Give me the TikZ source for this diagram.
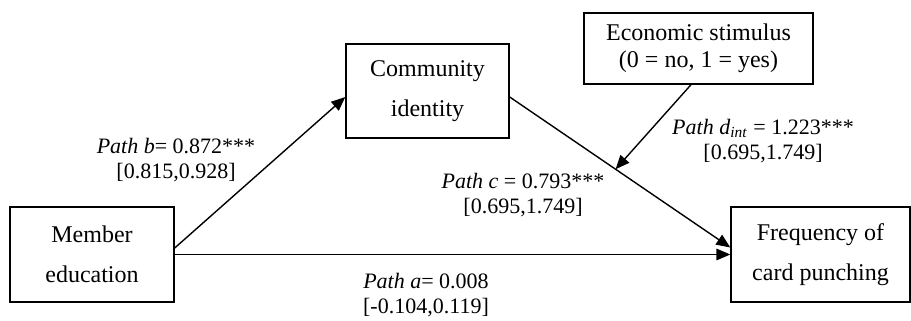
\documentclass[tikz,border=0pt]{standalone}
\usepackage{fontspec}
\setmainfont{Liberation Serif}
\usetikzlibrary{arrows.meta}
\tikzstyle{varbox}=[draw=black,line width=0.7pt,align=center,
                    inner sep=0pt,font=\fontsize{12}{20}\selectfont]
\tikzstyle{pathlabel}=[align=center,inner sep=0pt,
                       font=\fontsize{11}{12.5}\selectfont]
\tikzstyle{pathline}=[line width=0.7pt,
                      -{Triangle[length=7pt,width=5.8pt]}]

\begin{document}
\begin{tikzpicture}[x=0.5pt,y=-0.5pt]
    \useasboundingbox (0,0) rectangle (911,321);
    \node (mem)  at ( 92.0,254.5) [varbox,minimum width=82pt,minimum height=47.5pt]{Member\\education};
    \node (comm) at (427.5, 91.0) [varbox,minimum width=81.5pt,minimum height=47pt]{Community\\identity};
    \node (econ) at (698.5, 48.5) [varbox,minimum width=114.5pt,minimum height=35.5pt,
                                   font=\fontsize{12}{13.5}\selectfont]{Economic stimulus\\(0 = no, 1 = yes)};
    \node (freq) at (820.5,254.5) [varbox,minimum width=89.5pt,minimum height=47.5pt]{Frequency of\\card punching};
    \draw[pathline] ([yshift=3.25pt]mem.east) -- ([yshift=-3pt]comm.west);
    \draw[pathline] (mem.east) -- (freq.west);
    \draw[pathline] ([yshift=-3pt]comm.east) -- coordinate[pos=0.48] (dmid) ([yshift=3.5pt]freq.west);
    \draw[pathline] ([xshift=-3.75pt]econ.south) -- (dmid);
    \node (lb) at (176,160) [pathlabel]{\textit{Path b}= 0.872***\\{[0.815,0.928]}};
    \node (lc) at (523,195) [pathlabel]{\textit{Path c} = 0.793***\\{[0.695,1.749]}};
    \node (ld) at (763,141) [pathlabel]{\textit{Path d}\textsubscript{\textit{int}} = 1.223***\\{[0.695,1.749]}};
    \node (la) at (426,295) [pathlabel]{\textit{Path a}= 0.008\\{[-0.104,0.119]}};
  \end{tikzpicture}
\end{document}
